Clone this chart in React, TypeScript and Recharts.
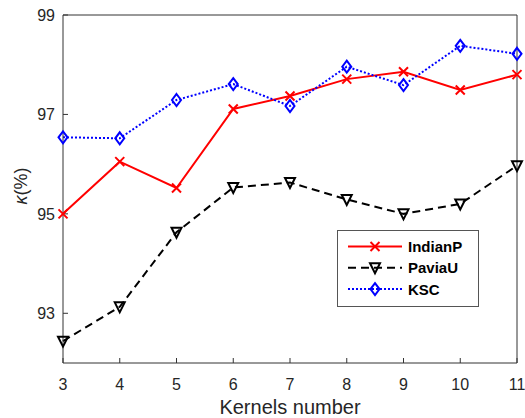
import React from 'react';
import { LineChart, Line, XAxis, YAxis, Legend, Label } from 'recharts';

const kernels = [3, 4, 5, 6, 7, 8, 9, 10, 11];
const indianP = [95.0, 96.05, 95.52, 97.11, 97.37, 97.71, 97.86, 97.49, 97.8];
const paviaU = [92.44, 93.13, 94.63, 95.53, 95.63, 95.29, 95.0, 95.2, 95.97];
const ksc = [96.54, 96.52, 97.29, 97.61, 97.17, 97.96, 97.59, 98.38, 98.22];
const yTicks = [93, 95, 97, 99];
const seriesNames = ['IndianP', 'PaviaU', 'KSC'];

const data = kernels.map((k, i) => ({ k, IndianP: indianP[i], PaviaU: paviaU[i], KSC: ksc[i] }));

const AXIS = '#333333';
const TICK_TEXT = '#262626';
const FONT = '"Liberation Sans", Arial, Helvetica, sans-serif';

const XMark = (cx: number, cy: number, key?: any) => (
  <path
    key={key}
    d={`M${cx - 4.5},${cy - 4.5}L${cx + 4.5},${cy + 4.5}M${cx - 4.5},${cy + 4.5}L${cx + 4.5},${cy - 4.5}`}
    stroke="#ff0000"
    strokeWidth={2}
    strokeDasharray="none"
    fill="none"
  />
);
const TriMark = (cx: number, cy: number, key?: any) => (
  <path
    key={key}
    d={`M${cx - 5},${cy - 4.5}L${cx + 5},${cy - 4.5}L${cx},${cy + 5.5}Z`}
    stroke="#000000"
    strokeWidth={2}
    strokeDasharray="none"
    strokeLinejoin="miter"
    fill="none"
  />
);
const DiaMark = (cx: number, cy: number, key?: any) => (
  <path
    key={key}
    d={`M${cx},${cy - 6}L${cx + 4.5},${cy}L${cx},${cy + 6}L${cx - 4.5},${cy}Z`}
    stroke="#0000ff"
    strokeWidth={2}
    strokeDasharray="none"
    fill="none"
  />
);

const mk = (fn: (cx: number, cy: number, key?: any) => any) => (props: any) => {
  const { cx, cy, key, index } = props;
  if (cx == null || cy == null) return <g key={key ?? index} />;
  return fn(cx, cy, key ?? index);
};

const legendStyles = [
  { color: '#ff0000', dash: undefined as string | undefined, mark: XMark },
  { color: '#000000', dash: '8 5', mark: TriMark },
  { color: '#0000ff', dash: '2 2', mark: DiaMark },
];

const LegendBox = () => (
  <svg width={142} height={77} style={{ display: 'block' }}>
    <rect x={0.5} y={0.5} width={141} height={76} fill="#ffffff" stroke="#555555" strokeWidth={1} />
    {seriesNames.map((name, i) => {
      const y = 16.5 + i * 21.3;
      const s = legendStyles[i];
      return (
        <g key={name}>
          <line x1={11} x2={65} y1={y} y2={y} stroke={s.color} strokeWidth={2} strokeDasharray={s.dash} />
          {s.mark(38, y)}
          <text x={71} y={y} dominantBaseline="central" fontFamily={FONT} fontWeight="bold" fontSize={15} fill="#000">
            {name}
          </text>
        </g>
      );
    })}
  </svg>
);

export default function App() {
  return (
    <div style={{ position: 'absolute', left: 0, top: 0, width: 525, height: 418, background: '#fff' }}>
      <LineChart width={525} height={418} data={data} margin={{ top: 14, right: 7, bottom: 0, left: 0 }}>
        <XAxis
          dataKey="k"
          type="number"
          domain={[3, 11]}
          ticks={kernels}
          height={55}
          tickSize={-5}
          tickMargin={21}
          stroke={AXIS}
          tick={{ fill: TICK_TEXT, fontSize: 16, fontFamily: FONT }}
          axisLine={{ stroke: AXIS, strokeWidth: 1 }}
          tickLine={{ stroke: AXIS, strokeWidth: 1 }}
          interval={0}
        >
          <Label
            value="Kernels number"
            position="insideBottom"
            offset={4}
            style={{ fontSize: 20, fontFamily: FONT, fill: TICK_TEXT }}
          />
        </XAxis>
        <XAxis
          xAxisId="top"
          orientation="top"
          dataKey="k"
          type="number"
          domain={[3, 11]}
          ticks={kernels}
          height={1}
          tickSize={-5}
          tick={false}
          axisLine={{ stroke: AXIS, strokeWidth: 1 }}
          tickLine={{ stroke: AXIS, strokeWidth: 1 }}
          interval={0}
        />
        <YAxis
          type="number"
          domain={[92, 99]}
          ticks={yTicks}
          width={63}
          tickSize={-5}
          tickMargin={13}
          allowDataOverflow
          tick={{ fill: TICK_TEXT, fontSize: 16, fontFamily: FONT }}
          axisLine={{ stroke: AXIS, strokeWidth: 1 }}
          tickLine={{ stroke: AXIS, strokeWidth: 1 }}
          interval={0}
        >
          <Label
            content={() => (
              <text
                x={21}
                y={186}
                transform="rotate(-90 21 186)"
                textAnchor="middle"
                dominantBaseline="central"
                fontFamily={FONT}
                fontSize={18}
                fill={TICK_TEXT}
              >
                <tspan fontStyle="italic">κ</tspan>
                <tspan>(%)</tspan>
              </text>
            )}
          />
        </YAxis>
        <YAxis
          yAxisId="right"
          orientation="right"
          type="number"
          domain={[92, 99]}
          ticks={yTicks}
          width={1}
          tickSize={-5}
          tick={false}
          allowDataOverflow
          axisLine={{ stroke: AXIS, strokeWidth: 1 }}
          tickLine={{ stroke: AXIS, strokeWidth: 1 }}
          interval={0}
        />
        <Line
          dataKey="IndianP"
          stroke="#ff0000"
          strokeWidth={2}
          dot={mk(XMark)}
          activeDot={false}
          isAnimationActive={false}
        />
        <Line
          dataKey="PaviaU"
          stroke="#000000"
          strokeWidth={2}
          strokeDasharray="8 5"
          dot={mk(TriMark)}
          activeDot={false}
          isAnimationActive={false}
        />
        <Line
          dataKey="KSC"
          stroke="#0000ff"
          strokeWidth={2}
          strokeDasharray="2 2"
          dot={mk(DiaMark)}
          activeDot={false}
          isAnimationActive={false}
        />
        <Legend
          layout="horizontal"
          verticalAlign="middle"
          align="center"
          content={() => <LegendBox />}
          wrapperStyle={{ left: 337, top: 230, width: 142, height: 77 }}
        />
      </LineChart>
    </div>
  );
}
